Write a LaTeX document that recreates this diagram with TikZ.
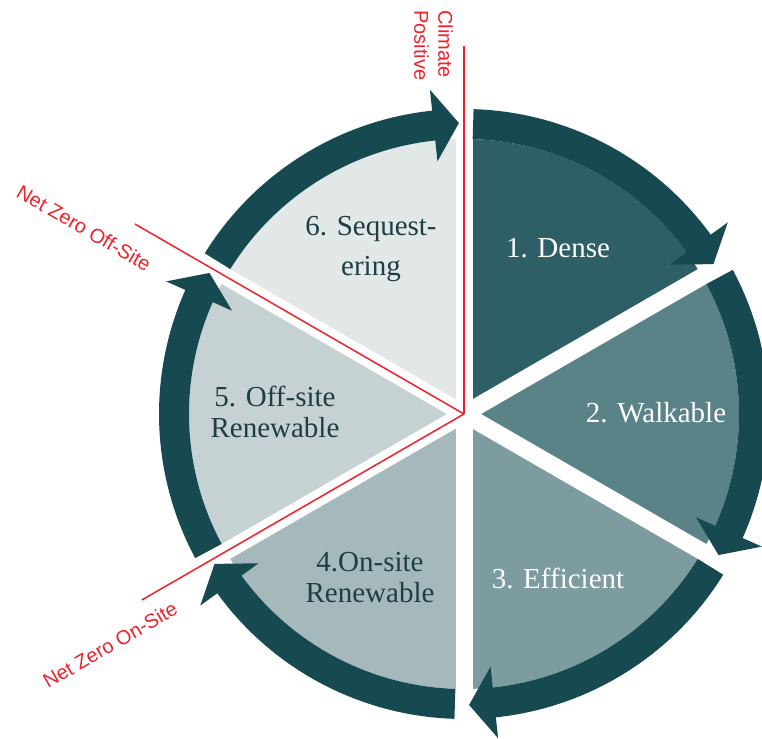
\documentclass[tikz,border=0pt]{standalone}
\usepackage{fontspec}
\setmainfont{Liberation Serif}
\newfontfamily\netfont{Liberation Sans}
\definecolor{ringteal}{RGB}{23,73,80}
\definecolor{stepA}{RGB}{46,95,103}
\definecolor{stepB}{RGB}{90,131,136}
\definecolor{stepC}{RGB}{124,156,160}
\definecolor{stepD}{RGB}{165,185,188}
\definecolor{stepE}{RGB}{197,209,211}
\definecolor{stepF}{RGB}{226,231,232}
\definecolor{darktext}{RGB}{30,62,68}
\definecolor{netred}{RGB}{242,32,42}
\tikzset{
  steplbl/.style={font=\fontsize{29}{31}\selectfont, align=center, inner sep=0pt},
  netlbl/.style={font=\netfont\fontsize{20}{24}\selectfont, text=netred, inner sep=0pt},
  netline/.style={netred, line width=1.5pt}
}
\begin{document}
\begin{tikzpicture}[x=1pt,y=1pt]
  \useasboundingbox (0,0) rectangle (762,738);
  \clip (0,0) rectangle (762,738);
  \coordinate (O) at (464,324);
  \begin{scope}[shift={(O)}]
    \foreach \a/\c in {90/stepA,30/stepB,-30/stepC,-90/stepD,-150/stepE,-210/stepF}
      \fill[\c] (0,0) -- (\a:275) arc[start angle=\a, end angle=\a-60, radius=275] -- cycle;
    \foreach \a in {90,30,-30,-90,-150,-210}
      \draw[white, line width=17pt] (0,0) -- (\a:285);
    \foreach \a in {90,30,-30,-90,-150,-210}
      \fill[ringteal] (\a-1.8:305) arc[start angle=\a-1.8, end angle=\a-54, radius=305]
        -- (\a-54:326) -- (\a-59:291) -- (\a-54:254) -- (\a-54:275)
        arc[start angle=\a-54, end angle=\a-1.8, radius=275] -- cycle;
    \coordinate (climate) at (90:368);
    \coordinate (offsite) at (150:380);
    \coordinate (onsite) at (210:372);
  \end{scope}
  \draw[netline] (O) -- (climate);
  \draw[netline] (O) -- (offsite);
  \draw[netline] (O) -- (onsite);

  \node[steplbl, text=white] (dense) at (558,490) {1. Dense};
  \node[steplbl, text=white] (walkable) at (656,325) {2. Walkable};
  \node[steplbl, text=white] (efficient) at (558,160) {3. Efficient};
  \node[steplbl, text=darktext] (onsiteren) at (370,160) {4.On-site\\Renewable};
  \node[steplbl, text=darktext] (offsiteren) at (275,326) {5. Off-site\\Renewable};
  \node[steplbl, text=darktext, font=\fontsize{29}{40}\selectfont] (sequest) at (371,489) {6. Sequest-\\ering};

  \node[netlbl, rotate=-90, anchor=north west, align=left] (climatelbl) at (453,728) {Climate\\Positive};
  \node[netlbl, rotate=-30] (offsitelbl) at (84,510) {Net Zero Off-Site};
  \node[netlbl, rotate=30] (onsitelbl) at (110,93) {Net Zero On-Site};
\end{tikzpicture}
\end{document}
